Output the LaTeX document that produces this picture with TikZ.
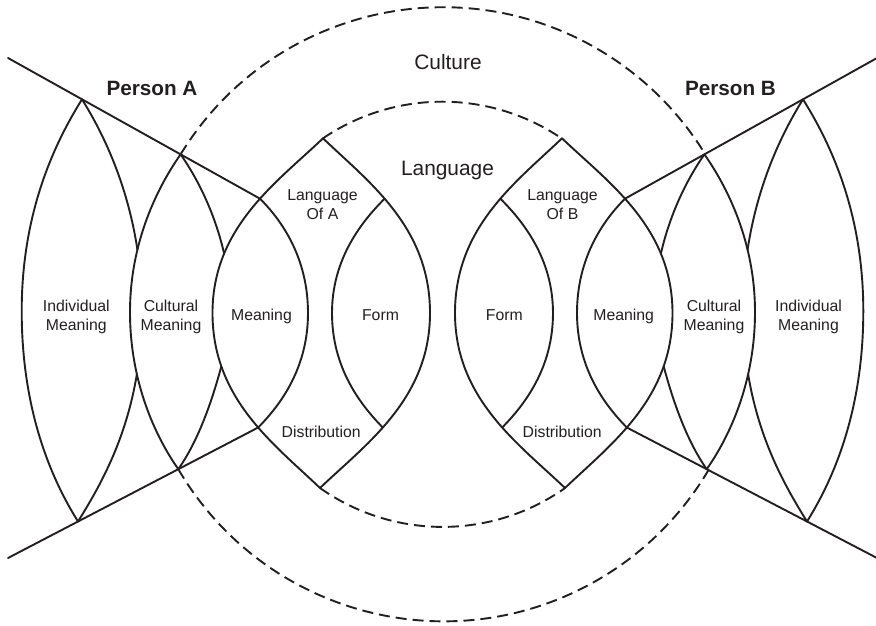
\documentclass[tikz,border=0pt]{standalone}
\usepackage{fontspec}
\setmainfont{Liberation Sans}
\definecolor{ink}{HTML}{231F20}
\tikzset{
  curve/.style={draw=ink, line width=1.9pt, line cap=round},
  guide/.style={draw=ink, line width=1.9pt, dash pattern=on 11pt off 6pt},
  small/.style={text=ink, align=center, inner sep=0pt,
                font=\fontsize{15.8}{19}\selectfont},
  big/.style={text=ink, inner sep=0pt, font=\fontsize{20.9}{25}\selectfont},
  person/.style={text=ink, inner sep=0pt, font=\bfseries\fontsize{20.7}{25}\selectfont},
}
% One half of the figure: the nested lenses of one person and the
% two lines that bound them; #1 is a suffix for the coordinate names.
\newcommand\halfdiagram[1]{%
  \coordinate (ta#1) at (323,138.3);
  \coordinate (ba#1) at (320,488);
  \coordinate (ma#1) at (212.5,313);
  \coordinate (mb#1) at (430,313);
  \coordinate (mc#1) at (308,313);
  \coordinate (md#1) at (332,313);
  \coordinate (me#1) at (130,312);
  \coordinate (mg#1) at (21.7,311);
  \coordinate (u0#1) at (8,58);
  \coordinate (l0#1) at (8,558);
  % outer lens of the language part
  \draw[curve] (ta#1) .. controls +(-46,44) and +(0,-86) ..
      coordinate[pos=0.43] (qa#1) coordinate[pos=0.74] (fa#1) (ma#1)
      .. controls +(0,86) and +(-46,-44) ..
      coordinate[pos=0.23] (fb#1) coordinate[pos=0.57] (qb#1) (ba#1);
  \draw[curve] (ta#1) .. controls +(46,44) and +(0,-86) ..
      coordinate[pos=0.43] (qc#1) (mb#1)
      .. controls +(0,86) and +(46,-44) ..
      coordinate[pos=0.57] (qd#1) (ba#1);
  % the two bounding lines
  \draw[curve] (u0#1) -- coordinate[pos=0.2937] (ia#1)
      coordinate[pos=0.6849] (ca#1) (qa#1);
  \draw[curve] (l0#1) -- coordinate[pos=0.2798] (ib#1)
      coordinate[pos=0.6807] (cb#1) (qb#1);
  % meaning and form lenses
  \draw[curve] (qa#1) .. controls +(22,22) and +(0,-55) .. (mc#1)
      .. controls +(0,55) and +(22.4,-22.8) .. (qb#1);
  \draw[curve] (qc#1) .. controls +(-22,22) and +(0,-55) .. (md#1)
      .. controls +(0,55) and +(-22.4,-22.8) .. (qd#1);
  % cultural meaning lens
  \draw[curve] (ca#1) .. controls +(-23,32.8) and +(0,-70) ..
      coordinate[pos=0.68] (he#1) (me#1)
      .. controls +(0,70) and +(-23,-32.8) ..
      coordinate[pos=0.32] (hf#1) (cb#1);
  \draw[curve] (ca#1) .. controls +(16.1,23) and +(-9.7,-42.2) .. (fa#1);
  \draw[curve] (cb#1) .. controls +(16.7,-23.8) and +(-11.9,44.6) .. (fb#1);
  % individual meaning lens
  \draw[curve] (ia#1) .. controls +(-26.5,42.4) and +(0,-100) .. (mg#1)
      .. controls +(0,100) and +(-26.5,-42.4) .. (ib#1);
  \draw[curve] (ia#1) .. controls +(20.5,32.9) and +(-10.2,-67.1) .. (he#1);
  \draw[curve] (ib#1) .. controls +(21.6,-34.7) and +(-11,66.5) .. (hf#1);
}
\begin{document}
\begin{tikzpicture}[x=1pt,y=-1pt]
  \useasboundingbox (0,0) rectangle (876,625);
  \halfdiagram{L}
  \begin{scope}[xshift=885pt, xscale=-1]
    \halfdiagram{R}
  \end{scope}
  % culture and language circles
  \draw[guide] (caL) arc[start angle=-148.56, end angle=-31.44, radius=307.5];
  \draw[guide] (cbL) arc[start angle=149.65, end angle=30.35, radius=307.5];
  \draw[guide] (taL) arc[start angle=-124.14, end angle=-55.86, radius=212.5];
  \draw[guide] (baL) arc[start angle=125.22, end angle=54.78, radius=212.5];
  % labels
  \node[big, anchor=base] (cul) at (448,69.3) {Culture};
  \node[big, anchor=base] (lan) at (447.5,175) {Language};
  \node[person, anchor=base] (pa) at (152,95) {Person A};
  \node[person, anchor=base] (pb) at (730.5,95) {Person B};
  \node[small] (imA) at (76.3,317.1) {Individual\\Meaning};
  \node[small] (cmA) at (171,317.1) {Cultural\\Meaning};
  \node[small, anchor=base] (mA) at (261.5,320.7) {Meaning};
  \node[small, anchor=base] (fA) at (380.5,320.7) {Form};
  \node[small] (lA) at (322.5,204.7) {Language\\Of A};
  \node[small, anchor=base] (dA) at (321.2,437.3) {Distribution};
  \node[small] (imB) at (808.5,317.1) {Individual\\Meaning};
  \node[small] (cmB) at (714,317.1) {Cultural\\Meaning};
  \node[small, anchor=base] (mB) at (623.7,320.7) {Meaning};
  \node[small, anchor=base] (fB) at (504.3,320.7) {Form};
  \node[small] (lB) at (562.5,204.7) {Language\\Of B};
  \node[small, anchor=base] (dB) at (562.2,437.3) {Distribution};
\end{tikzpicture}
\end{document}
